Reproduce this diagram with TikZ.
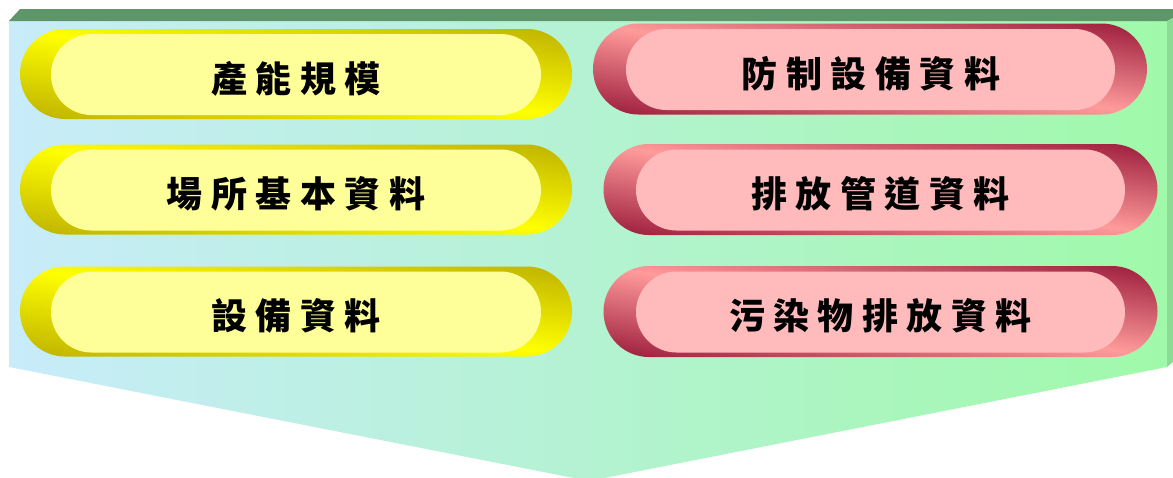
\documentclass[tikz,border=0pt]{standalone}
\usepackage{fontspec}
\newfontfamily\cjk{Noto Sans CJK TC}
\newcommand\ks{\kern 8.5pt}
\definecolor{bgL}{HTML}{C8ECFA}
\definecolor{bgR}{HTML}{A0F9AA}
\definecolor{topG}{HTML}{5F9669}
\definecolor{sideG}{HTML}{8CDC96}
\definecolor{yB}{HTML}{FFFF00}
\definecolor{yD}{HTML}{BEB200}
\definecolor{yIn}{HTML}{FFFF99}
\definecolor{pB}{HTML}{FF9B9B}
\definecolor{pD}{HTML}{9A1A3A}
\definecolor{pIn}{HTML}{FFBBBB}
% #1 node name, #2 half width, #3 half height, #4 dark colour, #5 bright colour
\newcommand\diagpill[5]{%
  \begin{scope}
    \clip[rounded corners=#3pt] (#1.south west) rectangle (#1.north east);
    \begin{scope}[transform canvas={shift={(#1.center)}, xscale=#2, yscale=#3}]
      \shade[top color=#4, bottom color=#4, middle color=#5, shading angle=-45]
        (-1.414,-1.414) rectangle (1.414,1.414);
    \end{scope}
  \end{scope}}
\begin{document}
\begin{tikzpicture}[x=1pt,y=-1pt,
  pillbase/.style={rectangle, inner sep=0pt, outer sep=0pt, draw=none},
  outerY/.style={pillbase, minimum width=552pt, minimum height=90pt},
  innerY/.style={pillbase, minimum width=490pt, minimum height=81pt, rounded corners=40.5pt, fill=yIn},
  outerP/.style={pillbase, minimum width=554pt, minimum height=91pt},
  innerP/.style={pillbase, minimum width=489pt, minimum height=81pt, rounded corners=40.5pt, fill=pIn},
  lbl/.style={font=\cjk\bfseries\fontsize{36}{40}\selectfont, inner sep=0pt, text=black}
]
\useasboundingbox (0,0) rectangle (1173,477);
% background box
\shade[left color=bgL, right color=bgR] (9,21) -- (1167,21) -- (1167,367) -- (589,481) -- (9,367) -- cycle;
\fill[topG] (9,21) -- (20,9) -- (1173,9) -- (1173,18) -- (1167,21) -- cycle;
\fill[sideG] (1167,21) -- (1173,18) -- (1173,362) -- (1167,367) -- cycle;
% left pills
\node[outerY] (yo1) at (296,74) {};
\diagpill{yo1}{276}{45}{yD}{yB}
\node[innerY] (yi1) at (296,74.5) {};
\node[lbl] (yt1) at (296,78.5) {產\ks 能\ks 規\ks 模};
\node[outerY] (yo2) at (296,189.5) {};
\diagpill{yo2}{276}{45}{yD}{yB}
\node[innerY] (yi2) at (296,190) {};
\node[lbl] (yt2) at (296,194) {場\ks 所\ks 基\ks 本\ks 資\ks 料};
\node[outerY] (yo3) at (296,311.5) {};
\diagpill{yo3}{276}{45}{yD}{yB}
\node[innerY] (yi3) at (296,312) {};
\node[lbl] (yt3) at (296,316) {設\ks 備\ks 資\ks 料};
% right pills
\node[outerP] (po1) at (870,69) {};
\diagpill{po1}{277}{45.5}{pD}{pB}
\node[innerP] (pi1) at (870.5,69.5) {};
\node[lbl] (pt1) at (871,74) {防\ks 制\ks 設\ks 備\ks 資\ks 料};
\node[outerP] (po2) at (880.5,189.5) {};
\diagpill{po2}{277}{45.5}{pD}{pB}
\node[innerP] (pi2) at (880.5,190) {};
\node[lbl] (pt2) at (880.5,194) {排\ks 放\ks 管\ks 道\ks 資\ks 料};
\node[outerP] (po3) at (880.5,311.5) {};
\diagpill{po3}{277}{45.5}{pD}{pB}
\node[innerP] (pi3) at (880.5,312) {};
\node[lbl] (pt3) at (880.5,316) {污\ks 染\ks 物\ks 排\ks 放\ks 資\ks 料};
\end{tikzpicture}
\end{document}
